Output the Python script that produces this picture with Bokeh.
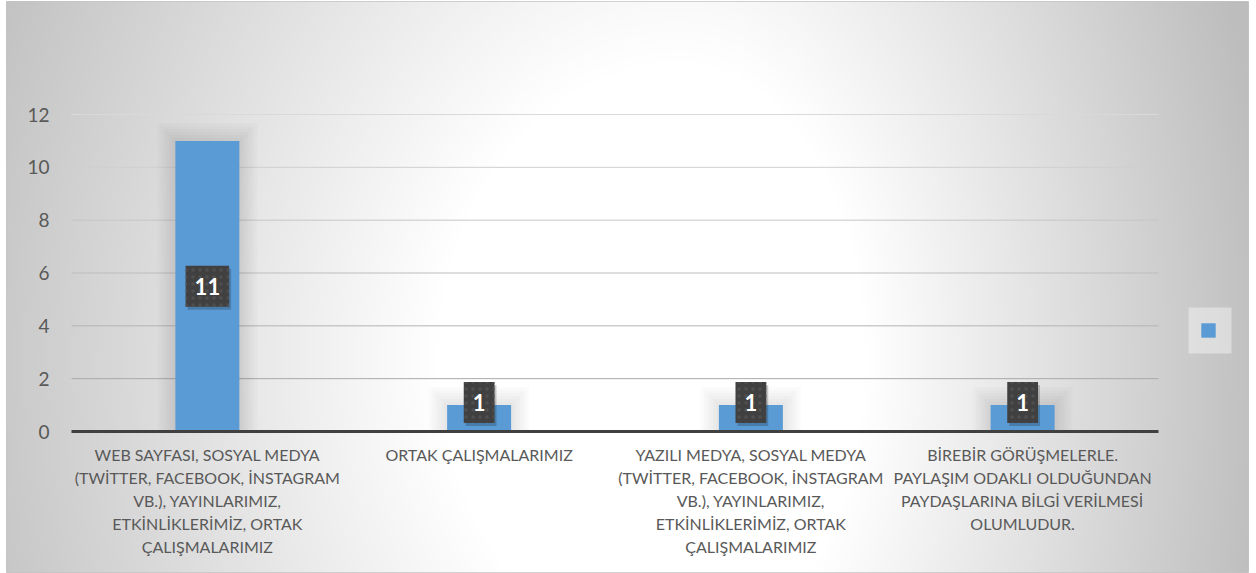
import numpy as np
from bokeh.plotting import figure
from bokeh.models import (LinearAxis, FixedTicker, Range1d, Legend, LegendItem,
                          ColumnDataSource, BoxAnnotation)
from bokeh.core.properties import value
from bokeh.embed import file_html
from bokeh.resources import INLINE

# ---------------- data ----------------
categories = [
    "WEB SAYFASI, SOSYAL MEDYA\n(TWİTTER, FACEBOOK, İNSTAGRAM\nVB.), YAYINLARIMIZ,\nETKİNLİKLERİMİZ, ORTAK\nÇALIŞMALARIMIZ",
    "ORTAK ÇALIŞMALARIMIZ",
    "YAZILI MEDYA, SOSYAL MEDYA\n(TWİTTER, FACEBOOK, İNSTAGRAM\nVB.), YAYINLARIMIZ,\nETKİNLİKLERİMİZ, ORTAK\nÇALIŞMALARIMIZ",
    "BİREBİR GÖRÜŞMELERLE.\nPAYLAŞIM ODAKLI OLDUĞUNDAN\nPAYDAŞLARINA BİLGİ VERİLMESİ\nOLUMLUDUR.",
]
values = [11, 1, 1, 1]
y_ticks = [0, 2, 4, 6, 8, 10, 12]

# ---------------- layout ----------------
W, H = 1256, 573
ML, MR, MT, MB = 6, 8, 1, 1
frame_w = W - ML - MR
frame_h = H - MT - MB
px_left, px_right = 71 - ML, 1158 - ML      # plot area inside the frame
px_zero, px_top = 431 - MT, 114 - MT

n = len(categories)
ux = (px_right - px_left) / n
x_start, x_end = -px_left / ux, (frame_w - px_left) / ux
uy = (px_zero - px_top) / max(y_ticks)
y_start, y_end = -(frame_h - px_zero) / uy, px_zero / uy

p = figure(width=W, height=H,
           x_range=Range1d(x_start, x_end), y_range=Range1d(y_start, y_end),
           x_axis_location=None, y_axis_location=None,
           toolbar_location=None, output_backend="svg",
           min_border_left=ML, min_border_right=MR,
           min_border_top=MT, min_border_bottom=MB)
p.grid.visible = False
p.border_fill_color = "white"
p.outline_line_color = "#c4c4c4"
p.outline_line_width = 1

# ---------------- radial gradient background ----------------
step = 3
gw = int(np.ceil(frame_w / step))
gh = int(np.ceil(frame_h / step))
xs_px = ML + (np.arange(gw) + 0.5) * frame_w / gw
ys_px = MT + (np.arange(gh) + 0.5) * frame_h / gh
X, Y = np.meshgrid(xs_px, ys_px)
cx, cy = 680.0, 360.0
dx = np.where(X < cx, (X - cx) / 1.22, (X - cx) / 0.93)
dy = (Y - cy) / 1.5
r = np.hypot(dx, dy)
drop = np.clip((r - 200.0) * 0.15, 0, 66)
g = (255 - drop).astype(np.uint8)
img = np.empty((gh, gw), dtype=np.uint32)
view = img.view(dtype=np.uint8).reshape((gh, gw, 4))
view[..., 0] = g
view[..., 1] = g
view[..., 2] = g
view[..., 3] = 255
img = img[::-1].copy()
p.image_rgba(image=[img], x=x_start, y=y_start,
             dw=x_end - x_start, dh=y_end - y_start)

# ---------------- gridlines ----------------
grid_vals = [t for t in y_ticks if t > 0]
grid_colors = ["#a9a9a9", "#b3b3b3", "#bdbdbd", "#c6c6c6", "#cfcfcf", "#d9d9d9"]
p.segment(x0=[0] * len(grid_vals), x1=[n] * len(grid_vals),
          y0=grid_vals, y1=grid_vals, line_color=grid_colors, line_width=1)

# ---------------- bars ----------------
xc = [i + 0.5 for i in range(n)]
bar_w = 64 / ux
src = ColumnDataSource(dict(x=xc, top=values))

# soft glow around the bars
for k in range(1, 7):
    p.vbar(x=xc, width=bar_w + 2 * k * 3 / ux,
           top=[v + k * 3 / uy for v in values], bottom=0,
           fill_color="black", fill_alpha=0.016, line_color=None)

bars = p.vbar(x="x", top="top", width=bar_w, bottom=0, source=src,
              fill_color="#5b9bd5", line_color=None)

# ---------------- data labels ----------------
label_y = [max(v / 2, 1.1) for v in values]   # label box kept clear of axis
lab_src = ColumnDataSource(dict(x=xc, y=label_y, text=[str(v) for v in values]))
pad = dict(left=9, right=9, top=12, bottom=12)
p.text(x="x", y="y", text="text", source=lab_src, x_offset=2, y_offset=3,
       text_font=value("Lato"), text_font_size="22px", text_font_style="bold",
       text_alpha=0, text_align="center", text_baseline="middle",
       background_fill_color="black", background_fill_alpha=0.2, padding=pad)
p.text(x="x", y="y", text="text", source=lab_src,
       text_font=value("Lato"), text_font_size="22px", text_font_style="bold",
       text_color="white", text_align="center", text_baseline="middle",
       background_fill_color="#404040", padding=pad,
       background_hatch_pattern="dot", background_hatch_color="#4f4f4f",
       background_hatch_scale=7, background_hatch_weight=1)

# ---------------- axes ----------------
yax = LinearAxis(fixed_location=0, ticker=FixedTicker(ticks=y_ticks))
yax.axis_line_color = None
yax.major_tick_line_color = None
yax.minor_tick_line_color = None
yax.major_tick_in = 0
yax.major_tick_out = 0
yax.major_label_standoff = 22
yax.major_label_text_font = "Lato"
yax.major_label_text_font_size = "19px"
yax.major_label_text_color = "#595959"
p.add_layout(yax, "left")

xax = LinearAxis(fixed_location=0, ticker=FixedTicker(ticks=xc), bounds=(0, n))
xax.major_label_overrides = {c: cat for c, cat in zip(xc, categories)}
xax.axis_line_color = "#404040"
xax.axis_line_width = 3
xax.major_tick_line_color = None
xax.minor_tick_line_color = None
xax.major_tick_in = 0
xax.major_tick_out = 0
xax.major_label_standoff = 13
xax.major_label_text_font = "Lato"
xax.major_label_text_font_size = "16px"
xax.major_label_text_color = "#595959"
xax.major_label_text_line_height = 1.22
xax.major_label_text_align = "center"
p.add_layout(xax, "below")

# ---------------- legend ----------------
legend_box = BoxAnnotation(left=1188 - ML, right=1231 - ML,
                           bottom=H - MB - 353, top=H - MB - 307,
                           left_units="screen", right_units="screen",
                           bottom_units="screen", top_units="screen",
                           fill_color="white", fill_alpha=0.4, line_color=None)
p.add_layout(legend_box)

legend = Legend(items=[LegendItem(label=" ", renderers=[bars])],
                location=(1199 - ML, H - MB - 339), margin=0, padding=0,
                glyph_width=18, glyph_height=18, label_width=0,
                label_standoff=0, label_text_font_size="1px",
                background_fill_alpha=0, border_line_color=None)
p.add_layout(legend)

open("out.html", "w").write(file_html(p, INLINE))
